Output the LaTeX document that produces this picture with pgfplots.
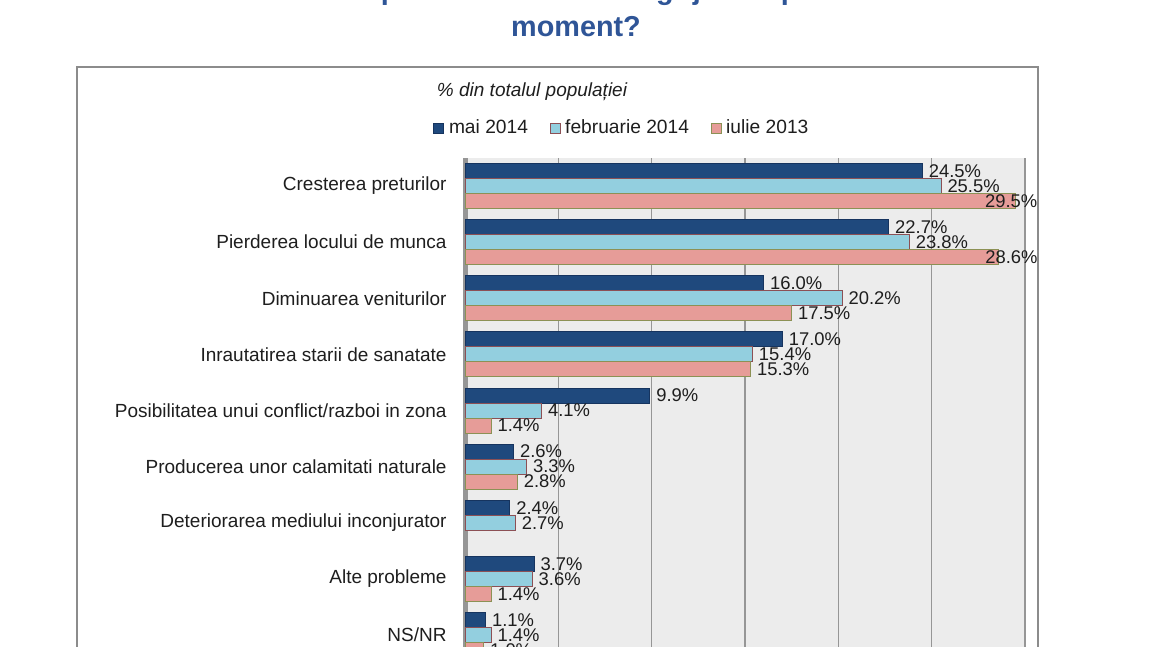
\documentclass[border=0pt]{standalone}
\usepackage{pgfplots}
\pgfplotsset{compat=1.18}
\usepackage{pgfplotstable}
\usepackage{fontspec}
\setmainfont{Liberation Sans}
\definecolor{cmai}{RGB}{31,73,125}
\definecolor{cmaiD}{RGB}{22,52,95}
\definecolor{cfeb}{RGB}{147,207,223}
\definecolor{cfebD}{RGB}{140,80,85}
\definecolor{ciul}{RGB}{230,156,152}
\definecolor{ciulD}{RGB}{140,145,85}
\definecolor{ctitle}{RGB}{47,85,151}
\definecolor{ctext}{RGB}{30,30,30}
\definecolor{cgrid}{RGB}{150,150,150}
\definecolor{cbg}{RGB}{236,236,236}
\definecolor{cframe}{RGB}{140,140,140}

\pgfplotstableread{
y x dx
0 24.5 0
1 22.7 0
2 16.0 0
3 17.0 0
4 9.9 0
5 2.6 0
6 2.4 0
7 3.7 0
8 1.1 0
}\tmai
\pgfplotstableread{
y x dx
0 25.5 0
1 23.8 0
2 20.2 0
3 15.4 0
4 4.1 0
5 3.3 0
6 2.7 0
7 3.6 0
8 1.4 0
}\tfeb
\pgfplotstableread{
y x dx
0 29.5 -18.5
1 28.6 -10
2 17.5 0
3 15.3 0
4 1.4 0
5 2.8 0
6 nan 0
7 1.4 0
8 1.0 0
}\tiul

\begin{document}
\begin{tikzpicture}
\useasboundingbox (0pt,0pt) rectangle (575pt,-323.5pt);
\clip (0pt,0pt) rectangle (575pt,-323.5pt);
\node[font=\fontsize{14.4}{17}\selectfont\bfseries, text=ctitle, anchor=base] at (287.5pt,0pt) {Care este cea mai importanta sursa de ingrijorare pentru dvs. in acest};
\node[font=\fontsize{14.4}{17}\selectfont\bfseries, text=ctitle, anchor=base] at (288pt,-18.5pt) {moment?};
\draw[cframe, line width=0.75pt] (38.5pt,-33.5pt) rectangle (519pt,-400pt);
\node[font=\fontsize{9.5}{11}\selectfont\itshape, text=ctext, anchor=base] at (266pt,-48.5pt) {\% din totalul populației};
\begin{axis}[
  at={(232.5pt,-79pt)}, anchor=north west,
  scale only axis, width=280pt, height=252.5pt,
  xbar, bar width=7.5pt,
  xmin=0, xmax=30, ymin=-0.5, ymax=8.5, y dir=reverse,
  xtick={5,10,...,30}, xticklabels={},
  xmajorgrids, major grid style={color=cgrid, line width=0.6pt},
  extra x ticks={0}, extra x tick labels={},
  extra x tick style={major grid style={line width=2.5pt, color=cgrid}},
  ytick={0,...,8},
  yticklabels={Cresterea preturilor, Pierderea locului de munca, Diminuarea veniturilor, Inrautatirea starii de sanatate, Posibilitatea unui conflict/razboi in zona, Producerea unor calamitati naturale, Deteriorarea mediului inconjurator, Alte probleme, NS/NR},
  yticklabel style={font=\fontsize{9.5}{11}\selectfont, text=ctext, inner sep=0pt, xshift=-9pt},
  major tick length=0pt, tick style={draw=none},
  axis line style={draw=none},
  axis background/.style={fill=cbg},
  point meta=x,
  nodes near coords={\pgfmathprintnumber[assume math mode=true,fixed,fixed zerofill,precision=1]{\pgfplotspointmeta}\%},
  every node near coord/.append style={font=\fontsize{9.2}{10}\selectfont, text=ctext, anchor=west, inner sep=0pt, xshift=3pt},
  legend columns=3,
  legend image code/.code={\draw[#1] (0pt,-2.5pt) rectangle (5pt,2.5pt); \path (6.5pt,0pt);},
  legend style={at={(0,1)}, anchor=west, xshift=-16pt, yshift=15pt, draw=none, fill=none, inner sep=0pt, font=\fontsize{9.6}{11}\selectfont, text=ctext, nodes={inner sep=0.8pt}, /tikz/every even column/.append style={column sep=10pt}},
  legend cell align=left,
  clip=false,
]
\addplot[fill=cmai, draw=cmaiD, line width=0.5pt, bar shift=7.5pt] table[x=x,y=y]{\tmai};
\addlegendentry{mai 2014}
\addplot[fill=cfeb, draw=cfebD, line width=0.5pt, bar shift=0pt] table[x=x,y=y]{\tfeb};
\addlegendentry{februarie 2014}
\addplot[fill=ciul, draw=ciulD, line width=0.5pt, bar shift=-7.5pt,
  visualization depends on={\thisrow{dx} \as \dx},
  every node near coord/.append style={xshift=\dx pt}] table[x=x,y=y]{\tiul};
\addlegendentry{iulie 2013}
\end{axis}
\end{tikzpicture}
\end{document}
